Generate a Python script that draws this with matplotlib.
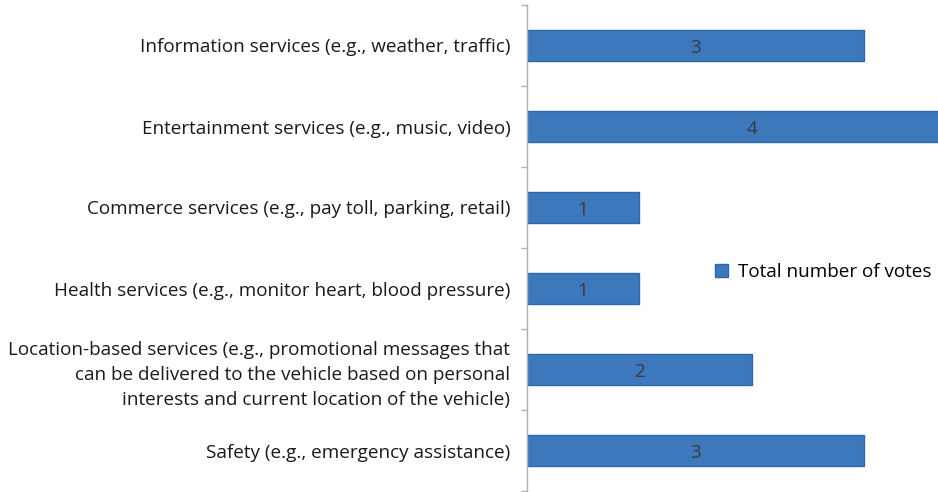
import numpy as np
import matplotlib.pyplot as plt

# Votes per service category (top to bottom as shown)
categories = [
    'Information services (e.g., weather, traffic)',
    'Entertainment services (e.g., music, video)',
    'Commerce services (e.g., pay toll, parking, retail)',
    'Health services (e.g., monitor heart, blood pressure)',
    'Location-based services (e.g., promotional messages that\n'
    'can be delivered to the vehicle based on personal\n'
    'interests and current location of the vehicle)',
    'Safety (e.g., emergency assistance)',
]
votes = [3, 4, 1, 1, 2, 3]

plt.rcParams['font.family'] = ['Open Sans', 'DejaVu Sans']
fs = 13.6

fig = plt.figure(figsize=(9.38, 4.92), dpi=100)
ax = fig.add_axes([527 / 938, 1 / 492, 1 - 527 / 938, 486 / 492])

y = np.arange(len(categories))
bars = ax.barh(y, votes, height=0.39, color='#3d78bd', edgecolor='#2f67ab',
               linewidth=1.0, label='Total number of votes')
for b, v in zip(bars, votes):
    ax.text(v / 2, b.get_y() + b.get_height() / 2 + 0.03, str(v), ha='center',
            va='center', fontsize=fs, color='#3a3a3a')

ax.set_xlim(0, 3.66)
ax.set_ylim(len(categories) - 0.5, -0.5)
ax.set_yticks(y)
ax.set_yticklabels(categories, fontsize=fs, color='#1a1a1a', ha='right',
                   multialignment='right', linespacing=1.5)
ax.tick_params(axis='y', which='major', length=0, pad=12)
ax.set_yticks(np.arange(len(categories) + 1) - 0.5, minor=True)
ax.tick_params(axis='y', which='minor', length=4, color='#b0b0b0', width=1)
ax.set_xticks([])

for s in ['top', 'right', 'bottom']:
    ax.spines[s].set_visible(False)
ax.spines['left'].set_color('#b0b0b0')
ax.spines['left'].set_linewidth(1)

ax.legend(loc='center left', bbox_to_anchor=(0.435, 0.45), frameon=False,
          fontsize=13.6, handlelength=0.7, handleheight=0.7,
          handletextpad=0.5, borderpad=0)

fig.savefig('out.png', dpi=100)
